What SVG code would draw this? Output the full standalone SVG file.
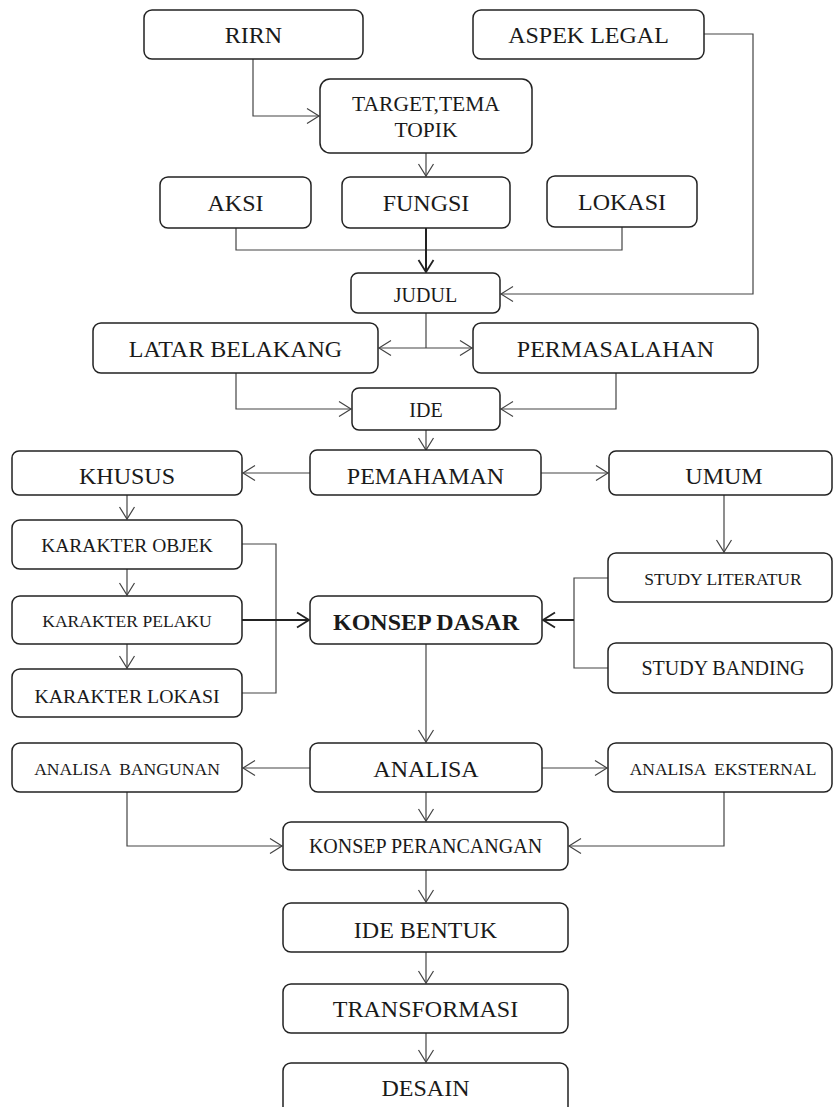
<svg xmlns="http://www.w3.org/2000/svg" width="834" height="1107" viewBox="0 0 834 1107">
<style>
.box{fill:#fff;stroke:#222;stroke-width:1.5}
.t{font-family:"Liberation Serif","Times New Roman",serif;fill:#1a1a1a;text-anchor:middle}
.c{fill:none;stroke:#444;stroke-width:1.2}
.ck{fill:none;stroke:#222;stroke-width:2}
</style>
<defs>
<marker id="a" markerUnits="userSpaceOnUse" markerWidth="16" markerHeight="18" viewBox="0 0 16 18" refX="14" refY="9" orient="auto">
<path d="M2,1.5 L14,9 L2,16.5" fill="none" stroke="#444" stroke-width="1.2"/>
</marker>
<marker id="ak" markerUnits="userSpaceOnUse" markerWidth="16" markerHeight="18" viewBox="0 0 16 18" refX="14" refY="9" orient="auto">
<path d="M2,1.5 L14,9 L2,16.5" fill="none" stroke="#222" stroke-width="1.8"/>
</marker>
</defs>
<g id="connectors">
<path class="c" d="M253,59 V116 H319" marker-end="url(#a)"/>
<path class="c" d="M704,34 H753 V294 H501" marker-end="url(#a)"/>
<path class="c" d="M426,153 V176" marker-end="url(#a)"/>
<path class="c" d="M236,228 V250 H622 V227"/>
<path class="ck" d="M426,228 V272" marker-end="url(#ak)"/>
<path class="c" d="M426,313 V348"/>
<path class="c" d="M426,348 H379" marker-end="url(#a)"/>
<path class="c" d="M426,348 H472" marker-end="url(#a)"/>
<path class="c" d="M236,373 V409 H351" marker-end="url(#a)"/>
<path class="c" d="M616,373 V409 H501" marker-end="url(#a)"/>
<path class="c" d="M426,430 V450" marker-end="url(#a)"/>
<path class="c" d="M310,473 H243" marker-end="url(#a)"/>
<path class="c" d="M541,473 H608" marker-end="url(#a)"/>
<path class="c" d="M127,495 V519" marker-end="url(#a)"/>
<path class="c" d="M127,569 V595" marker-end="url(#a)"/>
<path class="c" d="M127,644 V668" marker-end="url(#a)"/>
<path class="c" d="M242,544 H276 V693 H242"/>
<path class="ck" d="M242,620 H309" marker-end="url(#ak)"/>
<path class="c" d="M724,495 V552" marker-end="url(#a)"/>
<path class="c" d="M608,578 H574 V668 H608"/>
<path class="ck" d="M574,620 H543" marker-end="url(#ak)"/>
<path class="c" d="M426,644 V742" marker-end="url(#a)"/>
<path class="c" d="M310,768 H243" marker-end="url(#a)"/>
<path class="c" d="M542,768 H607" marker-end="url(#a)"/>
<path class="c" d="M426,792 V821" marker-end="url(#a)"/>
<path class="c" d="M127,792 V846 H282" marker-end="url(#a)"/>
<path class="c" d="M724,792 V846 H569" marker-end="url(#a)"/>
<path class="c" d="M426,870 V902" marker-end="url(#a)"/>
<path class="c" d="M426,952 V983" marker-end="url(#a)"/>
<path class="c" d="M426,1033 V1062" marker-end="url(#a)"/>
</g>
<g id="rirn"><rect class="box" x="144" y="10" width="219" height="49" rx="8"/><text class="t" x="253.5" y="43" font-size="24">RIRN</text></g>
<g id="aspek-legal"><rect class="box" x="473" y="10" width="231" height="49" rx="8"/><text class="t" x="588.5" y="43" font-size="24">ASPEK LEGAL</text></g>
<g id="target"><rect class="box" x="320" y="79" width="212" height="74" rx="10"/><text class="t" x="426" y="111" font-size="21.5">TARGET,TEMA</text><text class="t" x="426" y="137" font-size="21.5">TOPIK</text></g>
<g id="aksi"><rect class="box" x="160" y="177" width="151" height="51" rx="8"/><text class="t" x="235.5" y="211" font-size="24">AKSI</text></g>
<g id="fungsi"><rect class="box" x="342" y="177" width="168" height="51" rx="8"/><text class="t" x="426" y="211" font-size="24">FUNGSI</text></g>
<g id="lokasi"><rect class="box" x="547" y="176" width="150" height="51" rx="8"/><text class="t" x="622" y="210" font-size="24">LOKASI</text></g>
<g id="judul"><rect class="box" x="351" y="273" width="149" height="40" rx="7"/><text class="t" x="425.5" y="302" font-size="20">JUDUL</text></g>
<g id="latar-belakang"><rect class="box" x="93" y="323" width="285" height="50" rx="8"/><text class="t" x="235.5" y="357" font-size="24">LATAR BELAKANG</text></g>
<g id="permasalahan"><rect class="box" x="473" y="323" width="285" height="50" rx="8"/><text class="t" x="615.5" y="357" font-size="24">PERMASALAHAN</text></g>
<g id="ide"><rect class="box" x="352" y="388" width="148" height="42" rx="7"/><text class="t" x="426" y="417" font-size="20">IDE</text></g>
<g id="khusus"><rect class="box" x="12" y="451" width="230" height="44" rx="7"/><text class="t" x="127" y="484" font-size="24">KHUSUS</text></g>
<g id="pemahaman"><rect class="box" x="310" y="450" width="231" height="45" rx="7"/><text class="t" x="425.5" y="484" font-size="24">PEMAHAMAN</text></g>
<g id="umum"><rect class="box" x="609" y="451" width="223" height="44" rx="7"/><text class="t" x="724" y="484" font-size="24">UMUM</text></g>
<g id="karakter-objek"><rect class="box" x="12" y="520" width="230" height="49" rx="8"/><text class="t" x="127" y="552" font-size="19.5">KARAKTER OBJEK</text></g>
<g id="karakter-pelaku"><rect class="box" x="12" y="596" width="230" height="48" rx="8"/><text class="t" x="127" y="627" font-size="17.6">KARAKTER PELAKU</text></g>
<g id="karakter-lokasi"><rect class="box" x="12" y="669" width="230" height="48" rx="8"/><text class="t" x="127" y="703" font-size="19.8">KARAKTER LOKASI</text></g>
<g id="konsep-dasar"><rect class="box" x="310" y="596" width="232" height="48" rx="8"/><text class="t" x="426" y="630" font-size="24" font-weight="bold">KONSEP DASAR</text></g>
<g id="study-literatur"><rect class="box" x="608" y="553" width="224" height="49" rx="8"/><text class="t" x="723" y="585" font-size="17.5">STUDY LITERATUR</text></g>
<g id="study-banding"><rect class="box" x="608" y="643" width="224" height="50" rx="8"/><text class="t" x="723" y="675" font-size="20">STUDY BANDING</text></g>
<g id="analisa-bangunan"><rect class="box" x="12" y="743" width="230" height="49" rx="8"/><text class="t" x="127" y="775" font-size="17.6" xml:space="preserve">ANALISA  BANGUNAN</text></g>
<g id="analisa"><rect class="box" x="310" y="743" width="232" height="49" rx="8"/><text class="t" x="426" y="777" font-size="24">ANALISA</text></g>
<g id="analisa-eksternal"><rect class="box" x="608" y="743" width="224" height="49" rx="8"/><text class="t" x="723" y="775" font-size="17.5" xml:space="preserve">ANALISA  EKSTERNAL</text></g>
<g id="konsep-perancangan"><rect class="box" x="283" y="822" width="285" height="48" rx="8"/><text class="t" x="425.5" y="853" font-size="20">KONSEP PERANCANGAN</text></g>
<g id="ide-bentuk"><rect class="box" x="283" y="903" width="285" height="49" rx="8"/><text class="t" x="425.5" y="938" font-size="24">IDE BENTUK</text></g>
<g id="transformasi"><rect class="box" x="283" y="984" width="285" height="49" rx="8"/><text class="t" x="425.5" y="1017" font-size="24">TRANSFORMASI</text></g>
<g id="desain"><rect class="box" x="283" y="1063" width="285" height="52" rx="8"/><text class="t" x="425.5" y="1096" font-size="24">DESAIN</text></g>
</svg>
